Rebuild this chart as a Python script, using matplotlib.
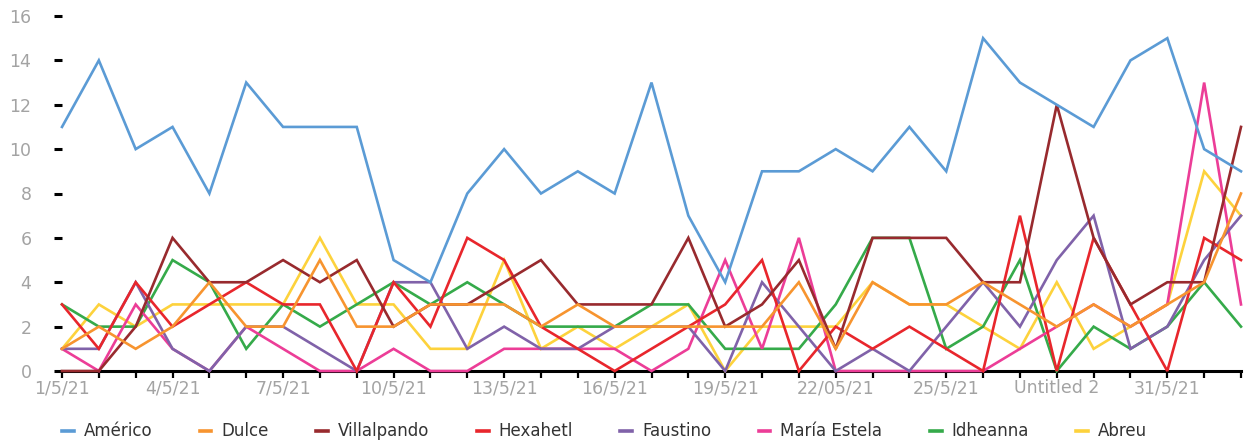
import numpy as np
import matplotlib
matplotlib.use("Agg")
import matplotlib.pyplot as plt

# Daily counts per person, 1 May 2021 onwards
americo     = [11, 14, 10, 11, 8, 13, 11, 11, 11, 5, 4, 8, 10, 8, 9, 8, 13, 7, 4, 9, 9, 10, 9, 11, 9, 15, 13, 12, 11, 14, 15, 10, 9]
dulce       = [1, 2, 1, 2, 4, 2, 2, 5, 2, 2, 3, 3, 3, 2, 3, 2, 2, 2, 2, 2, 4, 1, 4, 3, 3, 4, 3, 2, 3, 2, 3, 4, 8]
villalpando = [0, 0, 2, 6, 4, 4, 5, 4, 5, 2, 3, 3, 4, 5, 3, 3, 3, 6, 2, 3, 5, 1, 6, 6, 6, 4, 4, 12, 6, 3, 4, 4, 11]
hexahetl    = [3, 1, 4, 2, 3, 4, 3, 3, 0, 4, 2, 6, 5, 2, 1, 0, 1, 2, 3, 5, 0, 2, 1, 2, 1, 0, 7, 0, 6, 3, 0, 6, 5]
faustino    = [1, 1, 4, 1, 0, 2, 2, 1, 0, 4, 4, 1, 2, 1, 1, 2, 2, 2, 0, 4, 2, 0, 1, 0, 2, 4, 2, 5, 7, 1, 2, 5, 7]
maria       = [1, 0, 3, 1, 0, 2, 1, 0, 0, 1, 0, 0, 1, 1, 1, 1, 0, 1, 5, 1, 6, 0, 0, 0, 0, 0, 1, 2, 3, 2, 3, 13, 3]
idheanna    = [3, 2, 2, 5, 4, 1, 3, 2, 3, 4, 3, 4, 3, 2, 2, 2, 3, 3, 1, 1, 1, 3, 6, 6, 1, 2, 5, 0, 2, 1, 2, 4, 2]
abreu       = [1, 3, 2, 3, 3, 3, 3, 6, 3, 3, 1, 1, 5, 1, 2, 1, 2, 3, 0, 2, 2, 2, 4, 3, 3, 2, 1, 4, 1, 2, 3, 9, 7]

series_names = ["Américo", "Dulce", "Villalpando", "Hexahetl", "Faustino",
                "María Estela", "Idheanna", "Abreu"]
series_values = [americo, dulce, villalpando, hexahetl, faustino, maria, idheanna, abreu]
series_colors = ["#5B9BD5", "#F7942F", "#982A2E", "#E8262C", "#8062A9",
                 "#EC3D97", "#35AA4A", "#FDD23C"]

# Labelled categories (every third day)
tick_labels = ["1/5/21", "4/5/21", "7/5/21", "10/5/21", "13/5/21", "16/5/21",
               "19/5/21", "22/05/21", "25/5/21", "Untitled 2", "31/5/21"]
label_step = 3

plt.rcParams["font.family"] = ["DejaVu Sans"]

fig = plt.figure(figsize=(12.49, 4.47), dpi=100)
ax = fig.add_axes([62 / 1249, (447 - 371) / 447, (1241 - 62) / 1249, (371 - 16) / 447])

n = len(americo)
x = np.arange(n)
count = len(series_values)
for i, (name, vals, col) in enumerate(zip(series_names, series_values, series_colors)):
    ax.plot(x, vals, color=col, lw=1.9, label=name, zorder=3 + count - i,
            clip_on=False, solid_joinstyle="miter")

ax.set_xlim(0, n - 1)
ax.set_ylim(0, 16)
ax.set_yticks(np.arange(0, 17, 2))

ax.set_xticks(x)
labels = [""] * n
for k, lab in enumerate(tick_labels):
    labels[k * label_step] = lab
ax.set_xticklabels(labels)

for side in ("top", "right", "left"):
    ax.spines[side].set_visible(False)
ax.spines["bottom"].set_linewidth(2.2)
ax.spines["bottom"].set_color("black")
ax.spines["bottom"].set_zorder(2)

label_gray = "#A3A3A3"
ax.tick_params(axis="y", direction="out", length=6, width=2.2, color="black",
               pad=16, labelsize=12.5, labelcolor=label_gray)
ax.tick_params(axis="x", direction="out", length=5, width=1.6, color="black",
               pad=1.0, labelsize=12.5, labelcolor=label_gray)

leg = ax.legend(loc="upper left", bbox_to_anchor=(0.0, -0.145), ncol=8,
                frameon=False, fontsize=12, handlelength=0.7, handletextpad=0.6,
                columnspacing=2.85, borderaxespad=0, borderpad=0)
for line in leg.get_lines():
    line.set_linewidth(2.6)
for txt in leg.get_texts():
    txt.set_color("#333333")

fig.savefig("out.png", dpi=100)
